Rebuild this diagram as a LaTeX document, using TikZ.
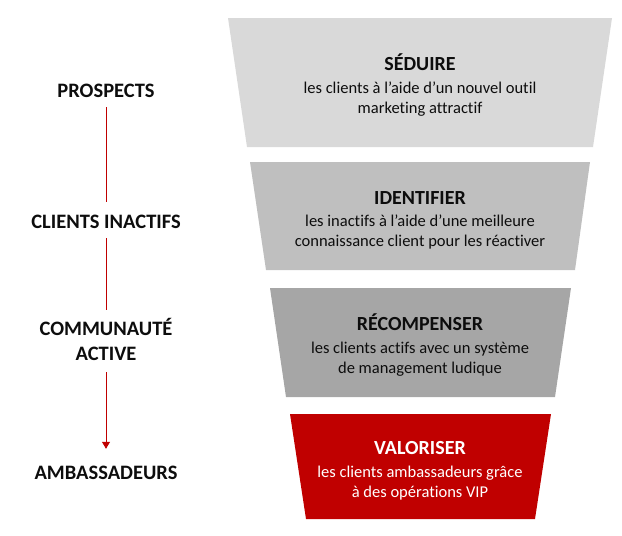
\documentclass[tikz,border=0pt]{standalone}
\usepackage{fontspec}
\setmainfont[Ligatures={NoCommon,NoContextual}]{Carlito}
\usetikzlibrary{arrows.meta}
\definecolor{lvlA}{HTML}{D9D9D9}
\definecolor{lvlB}{HTML}{BFBFBF}
\definecolor{lvlC}{HTML}{A6A6A6}
\definecolor{lvlD}{HTML}{C00000}
\definecolor{ink}{HTML}{0D0D0D}
\tikzset{
  stage/.style={inner sep=0pt, anchor=base, text height=13.5pt, text depth=0pt,
    font=\fontsize{20.5}{24}\selectfont\bfseries, text=ink},
  ttl/.style={inner sep=0pt, anchor=base, font=\fontsize{20}{24}\selectfont\bfseries, text=ink},
  body/.style={inner sep=0pt, anchor=base, font=\fontsize{16.5}{20}\selectfont, text=ink},
  flow/.style={draw=lvlD, line width=1pt},
}
\begin{document}
\begin{tikzpicture}[x=1pt,y=-1pt]
\useasboundingbox (0,0) rectangle (622,536);
% funnel bands
\fill[lvlA] (228,18) -- (612,18) -- (593,147) -- (247,147) -- cycle;
\fill[lvlB] (250,162) -- (590,162) -- (575,270) -- (266,270) -- cycle;
\fill[lvlC] (270,288) -- (571,288) -- (555,397) -- (286,397) -- cycle;
\fill[lvlD] (290,414) -- (551,414) -- (535,519) -- (306,519) -- cycle;
% band texts
\node[ttl] (t1) at (420,70.7) {SÉDUIRE};
\node[body] (b1a) at (420,93.3) {les clients à l’aide d’un nouvel outil};
\node[body] (b1b) at (420,113.3) {marketing attractif};
\node[ttl] (t2) at (420,204.2) {IDENTIFIER};
\node[body] (b2a) at (420,226.8) {les inactifs à l’aide d’une meilleure};
\node[body] (b2b) at (420,246.8) {connaissance client pour les réactiver};
\node[ttl] (t3) at (420,330.7) {RÉCOMPENSER};
\node[body] (b3a) at (420,353.3) {les clients actifs avec un système};
\node[body] (b3b) at (420,373.3) {de management ludique};
\node[ttl,text=white] (t4) at (420,454.7) {VALORISER};
\node[body,text=white] (b4a) at (420,477.3) {les clients ambassadeurs grâce};
\node[body,text=white] (b4b) at (420,497.3) {à des opérations VIP};
% left stages
\node[stage] (pros) at (106,97.3) {PROSPECTS};
\node[stage] (inact) at (106,228) {CLIENTS INACTIFS};
\node[stage] (comm) at (106,335) {COMMUNAUTÉ};
\node[stage] (act) at (106,360) {ACTIVE};
\node[stage] (amb) at (106,479) {AMBASSADEURS};
\draw[flow, shorten <=9.7pt, shorten >=12.5pt] (pros.south) -- (inact.north);
\draw[flow, shorten <=10pt, shorten >=11.5pt] (inact.south) -- (comm.north);
\draw[flow, shorten <=12pt, shorten >=16.5pt, -{Triangle[width=8pt,length=7pt]}, lvlD] (act.south) -- (amb.north);
\end{tikzpicture}
\end{document}
